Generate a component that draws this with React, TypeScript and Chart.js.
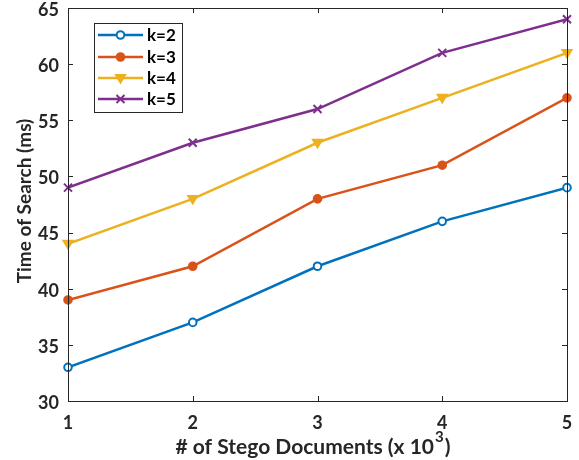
import React, { useEffect, useRef } from "react";
import { Chart, registerables } from "chart.js";

Chart.register(...registerables);

const xValues = [1, 2, 3, 4, 5];
const seriesLabels = ["k=2", "k=3", "k=4", "k=5"];
const k2 = [33, 37, 42, 46, 49];
const k3 = [39, 42, 48, 51, 57];
const k4 = [44, 48, 53, 57, 61];
const k5 = [49, 53, 56, 61, 64];
const colors = ["#0072BD", "#D95319", "#EDB120", "#7E2F8E"];
const yTicks = [30, 35, 40, 45, 50, 55, 60, 65];
const xTicks = [1, 2, 3, 4, 5];
const xTitle = "# of Stego Documents (x 10";
const xTitleSup = "3";
const yTitle = "Time of Search (ms)";

const FONT = "Lato";
const TEXT = "#262626";

function drawMarker(ctx: CanvasRenderingContext2D, style: string, x: number, y: number, color: string) {
  ctx.save();
  ctx.strokeStyle = color;
  ctx.lineWidth = 2;
  ctx.beginPath();
  if (style === "circle") {
    ctx.fillStyle = "#fff";
    ctx.arc(x, y, 3.8, 0, Math.PI * 2);
    ctx.fill();
    ctx.stroke();
  } else if (style === "circleFill") {
    ctx.fillStyle = color;
    ctx.arc(x, y, 3.8, 0, Math.PI * 2);
    ctx.fill();
    ctx.stroke();
  } else if (style === "triDown") {
    ctx.fillStyle = color;
    ctx.moveTo(x - 4.5, y - 3);
    ctx.lineTo(x + 4.5, y - 3);
    ctx.lineTo(x, y + 4.5);
    ctx.closePath();
    ctx.fill();
    ctx.stroke();
  } else {
    ctx.moveTo(x - 4, y - 4);
    ctx.lineTo(x + 4, y + 4);
    ctx.moveTo(x + 4, y - 4);
    ctx.lineTo(x - 4, y + 4);
    ctx.stroke();
  }
  ctx.restore();
}

const markerStyles = ["circle", "circleFill", "triDown", "cross"];

export default function App() {
  const ref = useRef<HTMLCanvasElement>(null);
  useEffect(() => {
    const all = [k2, k3, k4, k5];
    const datasets = all.map((vals, i) => ({
      label: seriesLabels[i],
      data: vals.map((v, j) => ({ x: xValues[j], y: v })),
      borderColor: colors[i],
      backgroundColor: colors[i],
      borderWidth: 2.5,
      pointRadius: 0,
      pointHoverRadius: 0,
      tension: 0,
    }));

    const framePlugin = {
      id: "frame",
      afterDatasetsDraw(chart: any) {
        const ctx = chart.ctx as CanvasRenderingContext2D;
        const { left, right, top, bottom } = chart.chartArea;
        const xs = chart.scales.x;
        const ys = chart.scales.y;
        chart.data.datasets.forEach((ds: any, i: number) => {
          ds.data.forEach((p: any) => {
            drawMarker(ctx, markerStyles[i], xs.getPixelForValue(p.x), ys.getPixelForValue(p.y), colors[i]);
          });
        });
        ctx.save();
        ctx.strokeStyle = "#262626";
        ctx.lineWidth = 1;
        ctx.strokeRect(Math.round(left) + 0.5, Math.round(top) + 0.5, Math.round(right - left), Math.round(bottom - top));
        ctx.beginPath();
        const tl = 5;
        xTicks.forEach((t) => {
          const px = Math.round(xs.getPixelForValue(t)) + 0.5;
          ctx.moveTo(px, bottom);
          ctx.lineTo(px, bottom - tl);
          ctx.moveTo(px, top);
          ctx.lineTo(px, top + tl);
        });
        yTicks.forEach((t) => {
          const py = Math.round(ys.getPixelForValue(t)) + 0.5;
          ctx.moveTo(left, py);
          ctx.lineTo(left + tl, py);
          ctx.moveTo(right, py);
          ctx.lineTo(right - tl, py);
        });
        ctx.stroke();

        // tick labels
        ctx.fillStyle = TEXT;
        ctx.font = `bold 18px ${FONT}`;
        ctx.textBaseline = "middle";
        ctx.textAlign = "right";
        yTicks.forEach((t) => {
          ctx.fillText(String(t), left - 9, ys.getPixelForValue(t) + 2);
        });
        ctx.textAlign = "center";
        xTicks.forEach((t) => {
          ctx.fillText(String(t), xs.getPixelForValue(t), bottom + 22);
        });

        // axis titles
        ctx.font = `bold 21px ${FONT}`;
        const mainW = ctx.measureText(xTitle).width;
        ctx.font = `bold 15px ${FONT}`;
        const supW = ctx.measureText(xTitleSup).width;
        ctx.font = `bold 21px ${FONT}`;
        const closeW = ctx.measureText(")").width;
        const totalW = mainW + supW + 2 + closeW;
        let sx = 313 - totalW / 2;
        const ty = 447;
        ctx.textAlign = "left";
        ctx.fillText(xTitle, sx, ty);
        sx += mainW;
        ctx.font = `bold 15px ${FONT}`;
        ctx.fillText(xTitleSup, sx + 1, ty - 10);
        sx += supW + 2;
        ctx.font = `bold 21px ${FONT}`;
        ctx.fillText(")", sx, ty);

        ctx.save();
        ctx.translate(25, 201);
        ctx.rotate(-Math.PI / 2);
        ctx.textAlign = "center";
        ctx.font = `bold 19px ${FONT}`;
        ctx.fillText(yTitle, 0, 0);
        ctx.restore();
        ctx.restore();

        // legend
        const lx = 94, ly = 23, lw = 88, lh = 89;
        ctx.save();
        ctx.fillStyle = "#fff";
        ctx.fillRect(lx, ly, lw, lh);
        ctx.strokeStyle = "#262626";
        ctx.lineWidth = 1;
        ctx.strokeRect(lx + 0.5, ly + 0.5, lw, lh);
        const rows = [35, 57, 78, 99];
        seriesLabels.forEach((lab, i) => {
          const y = rows[i];
          ctx.strokeStyle = colors[i];
          ctx.lineWidth = 2.5;
          ctx.beginPath();
          ctx.moveTo(98, y);
          ctx.lineTo(143, y);
          ctx.stroke();
          drawMarker(ctx, markerStyles[i], 120.5, y, colors[i]);
          ctx.fillStyle = "#000";
          ctx.font = `bold 17px ${FONT}`;
          ctx.textBaseline = "middle";
          ctx.textAlign = "left";
          ctx.fillText(lab, 147, y + 1);
        });
        ctx.restore();
      },
    };

    const chart = new Chart(ref.current!, {
      type: "line",
      data: { datasets },
      options: {
        animation: false,
        responsive: false,
        maintainAspectRatio: false,
        events: [],
        layout: { padding: { top: 8, right: 12, left: 0, bottom: 0 } },
        plugins: { legend: { display: false }, tooltip: { enabled: false } },
        scales: {
          x: {
            type: "linear",
            min: 1,
            max: 5,
            afterFit(s: any) { s.height = 59; },
            afterBuildTicks(s: any) { s.ticks = xTicks.map((v) => ({ value: v })); },
            grid: { display: false, drawTicks: false },
            border: { display: false },
            ticks: { display: false },
          },
          y: {
            min: 30,
            max: 65,
            afterFit(s: any) { s.width = 68; },
            afterBuildTicks(s: any) { s.ticks = yTicks.map((v) => ({ value: v })); },
            grid: { display: false, drawTicks: false },
            border: { display: false },
            ticks: { display: false },
          },
        },
      } as any,
      plugins: [framePlugin],
    });
    return () => chart.destroy();
  }, []);

  return (
    <div style={{ position: "fixed", left: 0, top: 0, width: 579, height: 460, background: "#fff" }}>
      <canvas ref={ref} width={579} height={460} style={{ width: 579, height: 460 }} />
    </div>
  );
}
